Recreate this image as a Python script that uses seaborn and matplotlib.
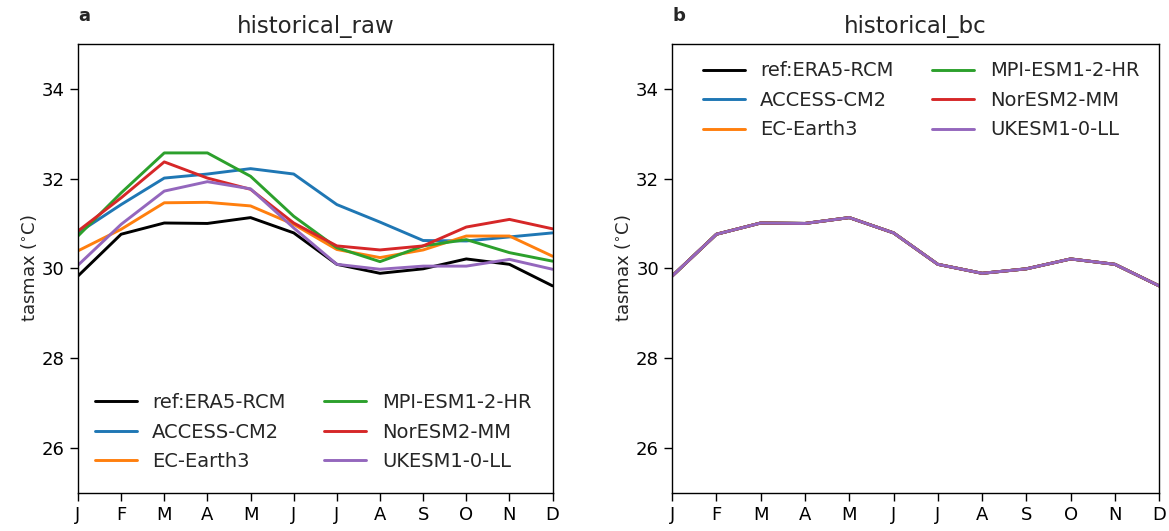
import numpy as np
import pandas as pd
import matplotlib
matplotlib.use("Agg")
import matplotlib.pyplot as plt
import seaborn as sns

months = ["J", "F", "M", "A", "M", "J", "J", "A", "S", "O", "N", "D"]
models = ["ref:ERA5-RCM", "ACCESS-CM2", "EC-Earth3", "MPI-ESM1-2-HR", "NorESM2-MM", "UKESM1-0-LL"]
colors = ["black", "#1f77b4", "#ff7f0e", "#2ca02c", "#d62728", "#9467bd"]

ref_era5 = [29.83, 30.76, 31.01, 31.00, 31.13, 30.79, 30.09, 29.89, 29.99, 30.21, 30.09, 29.61]
raw_access = [30.79, 31.42, 32.01, 32.10, 32.22, 32.10, 31.42, 31.03, 30.62, 30.61, 30.70, 30.79]
raw_ecearth = [30.39, 30.87, 31.46, 31.47, 31.39, 30.98, 30.42, 30.24, 30.41, 30.72, 30.72, 30.27]
raw_mpi = [30.72, 31.68, 32.57, 32.57, 32.05, 31.16, 30.46, 30.15, 30.50, 30.64, 30.35, 30.16]
raw_noresm = [30.83, 31.57, 32.37, 32.01, 31.76, 31.01, 30.50, 30.41, 30.50, 30.92, 31.09, 30.88]
raw_ukesm = [30.07, 30.98, 31.72, 31.93, 31.77, 30.90, 30.09, 29.98, 30.05, 30.05, 30.20, 29.98]

bc_access = list(ref_era5)
bc_ecearth = list(ref_era5)
bc_mpi = list(ref_era5)
bc_noresm = list(ref_era5)
bc_ukesm = list(ref_era5)

raw_series = [ref_era5, raw_access, raw_ecearth, raw_mpi, raw_noresm, raw_ukesm]
bc_series = [ref_era5, bc_access, bc_ecearth, bc_mpi, bc_noresm, bc_ukesm]


def to_long(series):
    rows = []
    for name, vals in zip(models, series):
        for i, v in enumerate(vals):
            rows.append({"month": i, "model": name, "tasmax": v})
    return pd.DataFrame(rows)


sns.set_theme(style="ticks")
plt.rcParams["font.family"] = ["DejaVu Sans"]

fig = plt.figure(figsize=(11.69, 5.31), dpi=100)
ax1 = fig.add_axes([0.0667, 0.0716, 0.406, 0.846])
ax2 = fig.add_axes([0.575, 0.0716, 0.4166, 0.846])

palette = dict(zip(models, colors))

for ax, series, title, lab, legloc, anchor in [
    (ax1, raw_series, "historical_raw", "a", "lower left", (0.019, 0.031)),
    (ax2, bc_series, "historical_bc", "b", "upper left", (0.047, 0.978)),
]:
    df = to_long(series)
    sns.lineplot(data=df, x="month", y="tasmax", hue="model", hue_order=models,
                 palette=palette, linewidth=2.1, ax=ax)
    ax.set_xlim(0, 11)
    ax.set_ylim(25, 35)
    ax.set_xticks(range(12))
    ax.set_xticklabels(months)
    ax.set_yticks([26, 28, 30, 32, 34])
    ax.tick_params(axis="both", labelsize=13, length=6, width=1.0, colors="black")
    ax.set_xlabel("")
    ax.set_ylabel("tasmax ($^{\\circ}$C)", fontsize=13, labelpad=2)
    ax.set_title(title, fontsize=16.5, pad=8)
    ax.text(0.0, 1.041, lab, transform=ax.transAxes, fontsize=13, fontweight="bold",
            ha="left", va="bottom")
    ax.legend(loc=legloc, bbox_to_anchor=anchor, borderaxespad=0.0, ncol=2,
              frameon=False, fontsize=14, handlelength=2.15, columnspacing=2.0,
              labelspacing=0.54, handletextpad=0.8)
    for spine in ax.spines.values():
        spine.set_visible(True)
        spine.set_color("black")
        spine.set_linewidth(1.0)

fig.savefig("out.png", dpi=100)
